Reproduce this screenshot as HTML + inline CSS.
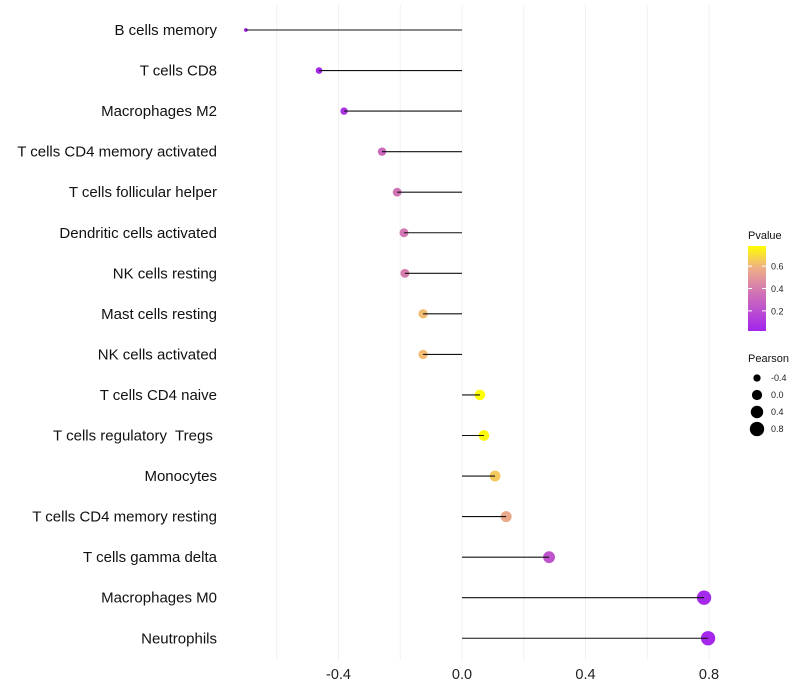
<!DOCTYPE html>
<html><head><meta charset="utf-8"><style>body{margin:0;background:#fff}svg{display:block;font-family:"Liberation Sans",sans-serif}text{white-space:pre}</style></head>
<body>
<svg id="chart" width="800" height="700"></svg>
<script>
const categories=["B cells memory","T cells CD8","Macrophages M2","T cells CD4 memory activated","T cells follicular helper","Dendritic cells activated","NK cells resting","Mast cells resting","NK cells activated","T cells CD4 naive","T cells regulatory  Tregs ","Monocytes","T cells CD4 memory resting","T cells gamma delta","Macrophages M0","Neutrophils"];
const pearson=[-0.70,-0.463,-0.382,-0.259,-0.21,-0.188,-0.185,-0.126,-0.126,0.058,0.071,0.107,0.143,0.282,0.784,0.797];
const pvalue=[0.01,0.04,0.08,0.32,0.36,0.38,0.40,0.62,0.62,0.78,0.76,0.65,0.56,0.22,0.04,0.03];
const xTicks=[-0.4,0.0,0.4,0.8];
const xTickLabels=["-0.4","0.0","0.4","0.8"];
const xGrid=[-0.6,-0.4,-0.2,0,0.2,0.4,0.6,0.8];
const pLegend=[0.2,0.4,0.6];
const sizeLegend=[-0.4,0.0,0.4,0.8];

const NS="http://www.w3.org/2000/svg";
const svg=document.getElementById('chart');
function el(t,a,p){const e=document.createElementNS(NS,t);for(const k in a)e.setAttribute(k,a[k]);(p||svg).appendChild(e);return e;}
const x=v=>462+v*308.75;
const y=i=>30+i*40.55;
const r=v=>Math.sqrt(Math.max(1.5,26+32*v));
function lerp(a,b,t){return a.map((c,i)=>Math.round(c+(b[i]-c)*t));}
function col(p){const s=[[0,[160,32,240]],[0.4,[214,125,175]],[0.6,[240,180,130]],[0.78,[255,255,0]]];
 p=Math.max(0,Math.min(0.78,p));for(let i=0;i<s.length-1;i++){if(p<=s[i+1][0]){const c=lerp(s[i][1],s[i+1][1],(p-s[i][0])/(s[i+1][0]-s[i][0]));return `rgb(${c})`;}}return 'rgb(255,255,0)';}

xGrid.forEach(g=>{const l=el('line',{x1:x(g),x2:x(g),y1:5,y2:660,stroke:'#f0f0f0','stroke-width':1});
});
xTicks.forEach((t,i)=>{const tx=el('text',{x:x(t),y:679,'text-anchor':'middle','font-size':14.5,fill:'#222'});tx.textContent=xTickLabels[i];
});
categories.forEach((c,i)=>{
 const lb=el('text',{x:217,y:y(i)+5,'text-anchor':'end','font-size':15,fill:'#111'});lb.textContent=c;
 
 const pt=el('circle',{cx:x(pearson[i]),cy:y(i),r:r(pearson[i]),fill:col(pvalue[i])});
 
 const sg=el('line',{x1:x(0),x2:x(pearson[i]),y1:y(i),y2:y(i),stroke:'#111','stroke-width':1.1});
 
});
const lt=el('text',{x:748,y:239,'font-size':11,fill:'#111'});lt.textContent='Pvalue';

const defs=el('defs',{});const gr=el('linearGradient',{id:'pg',x1:0,y1:1,x2:0,y2:0},defs);
[0,0.25,0.5,0.75,1].forEach(f=>el('stop',{offset:f,'stop-color':col(0.02+f*0.76)},gr));
const bar=el('rect',{x:748,y:246,width:18,height:85,fill:'url(#pg)'});

const py=p=>331-(p-0.02)/0.76*85;
pLegend.forEach(p=>{el('line',{x1:748,x2:752,y1:py(p),y2:py(p),stroke:'#fff'});el('line',{x1:762,x2:766,y1:py(p),y2:py(p),stroke:'#fff'});
 const t=el('text',{x:771,y:py(p)+3.5,'font-size':9,fill:'#222'});t.textContent=p.toFixed(1);
 });
const st=el('text',{x:748,y:362,'font-size':11,fill:'#111'});st.textContent='Pearson';

sizeLegend.forEach((v,i)=>{const c=el('circle',{cx:757,cy:378+i*17,r:r(v),fill:'#000'});
 
 const t=el('text',{x:771,y:381+i*17,'font-size':9,fill:'#222'});t.textContent=v.toFixed(1);
 });
</script>
</body></html>
